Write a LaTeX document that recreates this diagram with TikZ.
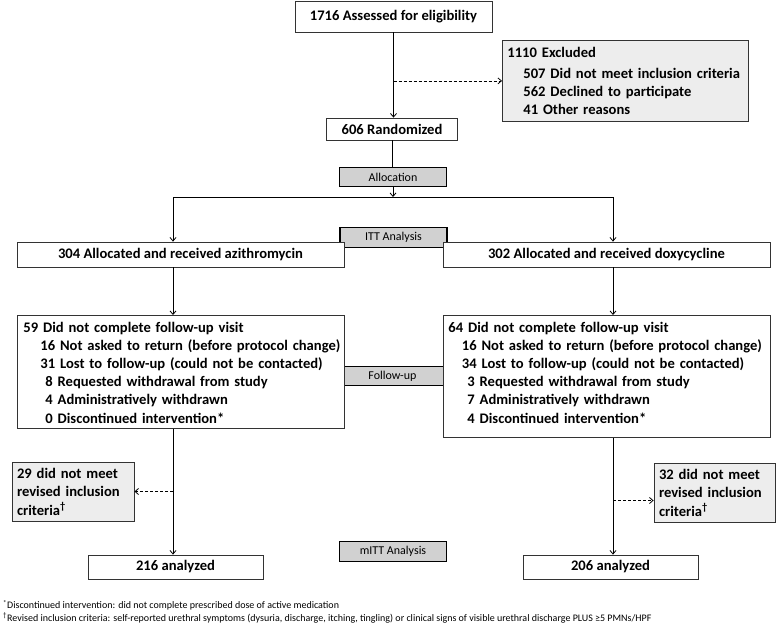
\documentclass[tikz,border=0pt]{standalone}
\usepackage{fontspec}
\setmainfont{Carlito}
\usetikzlibrary{arrows.meta}

\begin{document}
\begin{tikzpicture}[x=1pt,y=-1pt,
    >={Straight Barb[length=3.5pt,width=6pt]},
    box/.style={draw=black!80,line width=0.8pt,fill=white,inner sep=0pt,
      font=\fontsize{14.6}{18.5}\selectfont\bfseries},
    listbox/.style={box,align=left,anchor=north west,inner xsep=6pt,
      font=\fontsize{14.6}{18.2}\selectfont\bfseries},
    exclbox/.style={box,fill=black!7,align=left,inner xsep=5pt},
    phase/.style={draw=black,line width=1.3pt,fill=black!18,inner sep=0pt,
      minimum width=107pt,minimum height=19.5pt,font=\fontsize{12}{14}\selectfont},
    link/.style={line width=0.8pt},
    dropout/.style={link,dash pattern=on 3pt off 2pt}]

    % Fix the page to the size of the flow chart
    \useasboundingbox (0,0) rectangle (777,624);

    % Enrolment
    \node[box,minimum width=197pt,minimum height=31pt] (elig) at (393.5,16.5) {1716 Assessed for eligibility};
    \node[exclbox,anchor=north west,text width=236pt,font=\fontsize{14.6}{18}\selectfont\bfseries] (excl) at (502,40)
      {\begin{tabular}{@{}l@{}}
       \rule{0pt}{17pt}1110 Excluded\\[3pt]
       \hspace*{16pt}507 Did not meet inclusion criteria\\
       \hspace*{16pt}562 Declined to participate\\
       \hspace*{16pt}41 Other reasons\rule[-7pt]{0pt}{7pt}
       \end{tabular}};
    \node[box,minimum width=131pt,minimum height=22pt] (rand) at (392,129) {606 Randomized};

    % Phase labels in the middle column
    \node[phase] (alloc) at (393,177) {Allocation};
    \node[phase] (itt) at (393.5,237.5) {ITT Analysis};
    \node[phase] (fu) at (392.5,376) {Follow-up};
    \node[phase] (mitt) at (393,551.5) {mITT Analysis};

    % The two arms
    \coordinate (split) at (393,197);
    \coordinate (brL) at (173,197);
    \coordinate (brR) at (613,197);
    \node[box,minimum width=327pt,minimum height=25pt] (azi) at (180.5,254.5) {304 Allocated and received azithromycin};
    \node[box,minimum width=327pt,minimum height=25pt] (doxy) at (606.5,254.5) {302 Allocated and received doxycycline};

    \node[listbox,text width=315pt] (fuL) at (17,315)
      {\begin{tabular}{@{}l@{}}
       \rule{0pt}{16.7pt}59 Did not complete follow-up visit\\
       \hspace*{17pt}16 Not asked to return (before protocol change)\\
       \hspace*{17pt}31 Lost to follow-up (could not be contacted)\\
       \hspace*{22pt}8 Requested withdrawal from study\\
       \hspace*{22pt}4 Administratively withdrawn\\
       \hspace*{22pt}0 Discontinued intervention*
       \end{tabular}};
    \node[listbox,inner xsep=5pt,text width=317pt] (fuR) at (443,315)
      {\begin{tabular}{@{}l@{}}
       \rule{0pt}{16.7pt}64 Did not complete follow-up visit\\
       \hspace*{13.5pt}16 Not asked to return (before protocol change)\\
       \hspace*{13.5pt}34 Lost to follow-up (could not be contacted)\\
       \hspace*{19pt}3 Requested withdrawal from study\\
       \hspace*{19pt}7 Administratively withdrawn\\
       \hspace*{19pt}4 Discontinued intervention*\rule[-14.3pt]{0pt}{14.3pt}
       \end{tabular}};

    \node[exclbox,text width=112pt,minimum height=59pt] (exL) at (73,491.5)
      {29 did not meet\\revised inclusion\\criteria\textsuperscript{†}};
    \node[exclbox,text width=111pt,minimum height=59pt] (exR) at (714.5,492.5)
      {32 did not meet\\revised inclusion\\criteria\textsuperscript{†}};
    \coordinate (fxR) at ([yshift=-8pt]exR.west);

    \node[box,minimum width=175pt,minimum height=24pt] (anL) at (175.5,567) {216 analyzed};
    \node[box,minimum width=175pt,minimum height=24pt] (anR) at (610.5,567) {206 analyzed};

    % Connectors
    \draw[link,->] (elig.south) -- (elig.south |- rand.north);
    \draw[dropout,->] (elig.south |- excl.west) -- (excl.west);
    \draw[link] (rand.south) -- (rand.south |- alloc.north);
    \draw[link,->] (alloc.south) -- (split);
    \draw[link] (brL) -- (brR);
    \draw[link,->] (brL) -- (brL |- azi.north);
    \draw[link,->] (brR) -- (brR |- doxy.north);
    \draw[link,->] (brL |- azi.south) -- (brL |- fuL.north);
    \draw[link,->] (brR |- doxy.south) -- (brR |- fuR.north);
    \draw[link,->] (brL |- fuL.south) -- (brL |- anL.north);
    \draw[link,->] (brR |- fuR.south) -- (brR |- anR.north);
    \draw[dropout,->] (brL |- exL.east) -- (exL.east);
    \draw[dropout,->] (brR |- fxR) -- (fxR);

    % Footnotes
    \node[anchor=north west,align=left,inner sep=0pt,font=\fontsize{10}{12.5}\selectfont] (notes) at (3,600)
      {\textsuperscript{*}Discontinued intervention: did not complete prescribed dose of active medication\\
       \textsuperscript{†}Revised inclusion criteria: self-reported urethral symptoms (dysuria, discharge, itching, tingling) or clinical signs of visible urethral discharge PLUS ≥5 PMNs/HPF};
\end{tikzpicture}
\end{document}
